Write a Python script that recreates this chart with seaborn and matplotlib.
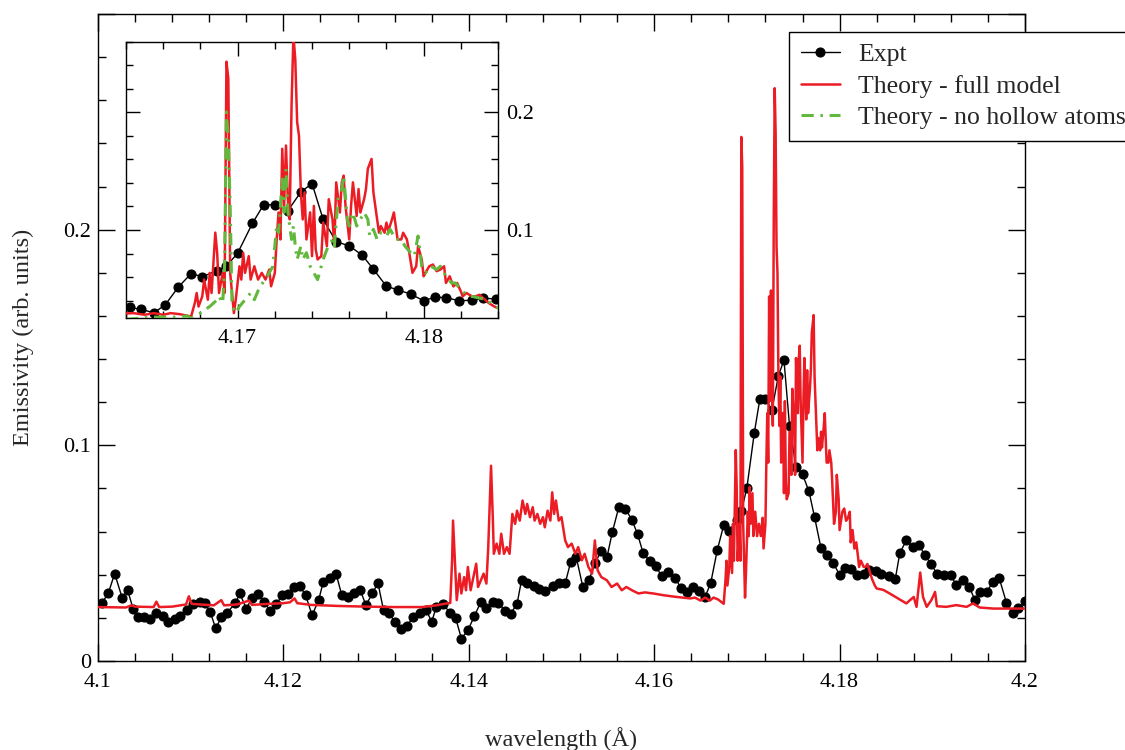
import matplotlib
matplotlib.use("Agg")
import matplotlib.pyplot as plt
from matplotlib.ticker import MultipleLocator, FuncFormatter
import seaborn as sns

# ---- values ----
# measured spectrum (black dots)
EXPT_WL = [4.1004, 4.1011, 4.1018, 4.1026, 4.1032, 4.1038, 4.1043, 4.1050, 4.1056, 4.1063,
           4.1070, 4.1076, 4.1083, 4.1089, 4.1096, 4.1103, 4.1110, 4.1115, 4.1121, 4.1127,
           4.1133, 4.1139, 4.1148, 4.1153, 4.1160, 4.1166, 4.1173, 4.1179, 4.1186, 4.1192,
           4.1199, 4.1205, 4.1211, 4.1218, 4.1224, 4.1231, 4.1238, 4.1243, 4.1250, 4.1257,
           4.1263, 4.1270, 4.1276, 4.1283, 4.1289, 4.1296, 4.1302, 4.1308, 4.1314, 4.1320,
           4.1327, 4.1333, 4.1340, 4.1347, 4.1354, 4.1360, 4.1365, 4.1372, 4.1380, 4.1386,
           4.1392, 4.1399, 4.1406, 4.1413, 4.1419, 4.1426, 4.1432, 4.1439, 4.1445, 4.1452,
           4.1457, 4.1463, 4.1470, 4.1476, 4.1482, 4.1491, 4.1497, 4.1504, 4.1510, 4.1516,
           4.1523, 4.1530, 4.1536, 4.1543, 4.1549, 4.1555, 4.1562, 4.1569, 4.1576, 4.1582,
           4.1588, 4.1595, 4.1602, 4.1608, 4.1615, 4.1622, 4.1629, 4.1635, 4.1642, 4.1648,
           4.1655, 4.1661, 4.1668, 4.1675, 4.1681, 4.1689, 4.1694, 4.1700, 4.1708, 4.1714,
           4.1720, 4.1727, 4.1734, 4.1740, 4.1746, 4.1753, 4.1760, 4.1767, 4.1773, 4.1780,
           4.1786, 4.1793, 4.1800, 4.1806, 4.1812, 4.1819, 4.1826, 4.1832, 4.1839, 4.1845,
           4.1853, 4.1860, 4.1865, 4.1872, 4.1879, 4.1886, 4.1892, 4.1899, 4.1905, 4.1913,
           4.1920, 4.1926, 4.1933, 4.1940, 4.1946, 4.1952, 4.1959, 4.1965, 4.1972, 4.1980,
           4.1987, 4.1993, 4.2000]
EXPT_EM = [0.0267, 0.0313, 0.0405, 0.0294, 0.0328, 0.0240, 0.0205, 0.0202, 0.0193, 0.0223,
           0.0208, 0.0182, 0.0193, 0.0208, 0.0236, 0.0263, 0.0274, 0.0267, 0.0228, 0.0151,
           0.0202, 0.0223, 0.0267, 0.0313, 0.0243, 0.0290, 0.0309, 0.0274, 0.0232, 0.0263,
           0.0305, 0.0309, 0.0342, 0.0346, 0.0305, 0.0212, 0.0282, 0.0366, 0.0386, 0.0402,
           0.0305, 0.0298, 0.0313, 0.0328, 0.0259, 0.0313, 0.0362, 0.0236, 0.0224, 0.0182,
           0.0147, 0.0162, 0.0202, 0.0223, 0.0236, 0.0182, 0.0251, 0.0263, 0.0223, 0.0197,
           0.0104, 0.0142, 0.0208, 0.0274, 0.0246, 0.0274, 0.0271, 0.0232, 0.0220, 0.0263,
           0.0377, 0.0362, 0.0348, 0.0336, 0.0325, 0.0348, 0.0362, 0.0360, 0.0460, 0.0480,
           0.0344, 0.0377, 0.0453, 0.0510, 0.0480, 0.0600, 0.0716, 0.0705, 0.0654, 0.0589,
           0.0502, 0.0463, 0.0439, 0.0393, 0.0413, 0.0387, 0.0339, 0.0320, 0.0344, 0.0325,
           0.0298, 0.0362, 0.0513, 0.0630, 0.0603, 0.0655, 0.0694, 0.0803, 0.1058, 0.1215,
           0.1214, 0.1164, 0.1323, 0.1395, 0.1090, 0.0900, 0.0866, 0.0786, 0.0667, 0.0522,
           0.0492, 0.0456, 0.0399, 0.0429, 0.0426, 0.0399, 0.0404, 0.0420, 0.0415, 0.0402,
           0.0393, 0.0378, 0.0501, 0.0559, 0.0528, 0.0536, 0.0490, 0.0448, 0.0405, 0.0397,
           0.0397, 0.0351, 0.0374, 0.0343, 0.0282, 0.0320, 0.0320, 0.0367, 0.0387, 0.0270,
           0.0221, 0.0244, 0.0277]

# theory - full model (red)
FULL_WL = [4.1000, 4.1030, 4.1036, 4.1040, 4.1060, 4.1063, 4.1066, 4.1080, 4.1095, 4.1098,
           4.1101, 4.1110, 4.1125, 4.1133, 4.1136, 4.1150, 4.1163, 4.1166, 4.1185, 4.1200,
           4.1207, 4.1212, 4.1215, 4.1230, 4.1260, 4.1290, 4.1320, 4.1350, 4.1365, 4.1375,
           4.1380, 4.1382, 4.1383, 4.1385, 4.1387, 4.1390, 4.1392, 4.1395, 4.1397, 4.1399,
           4.1402, 4.1405, 4.1408, 4.1410, 4.1413, 4.1416, 4.1419, 4.1421, 4.1424, 4.1426,
           4.1427, 4.1430, 4.1433, 4.1435, 4.1438, 4.1441, 4.1444, 4.1447, 4.1450, 4.1452,
           4.1455, 4.1458, 4.1461, 4.1463, 4.1466, 4.1469, 4.1471, 4.1474, 4.1477, 4.1480,
           4.1482, 4.1485, 4.1488, 4.1490, 4.1492, 4.1494, 4.1497, 4.1500, 4.1504, 4.1507,
           4.1511, 4.1515, 4.1518, 4.1522, 4.1525, 4.1529, 4.1533, 4.1536, 4.1539, 4.1543,
           4.1549, 4.1554, 4.1560, 4.1565, 4.1570, 4.1576, 4.1583, 4.1590, 4.1599, 4.1610,
           4.1624, 4.1639, 4.1644, 4.1650, 4.1655, 4.1660, 4.1664, 4.1669, 4.1675, 4.1677,
           4.1678, 4.1679, 4.1681, 4.1682, 4.1684, 4.1685, 4.1686, 4.1688, 4.1689, 4.1690,
           4.1692, 4.1693, 4.1694, 4.1695, 4.1696, 4.1698, 4.1699, 4.1701, 4.1702, 4.1703,
           4.1704, 4.1706, 4.1707, 4.1709, 4.1711, 4.1713, 4.1715, 4.1717, 4.1718, 4.1720,
           4.1721, 4.1722, 4.1723, 4.1724, 4.1725, 4.1726, 4.1727, 4.1728, 4.1729, 4.1730,
           4.1731, 4.1732, 4.1733, 4.1734, 4.1735, 4.1736, 4.1737, 4.1739, 4.1740, 4.1741,
           4.1742, 4.1743, 4.1745, 4.1746, 4.1748, 4.1749, 4.1751, 4.1752, 4.1753, 4.1755,
           4.1756, 4.1757, 4.1758, 4.1760, 4.1761, 4.1762, 4.1764, 4.1765, 4.1766, 4.1768,
           4.1769, 4.1770, 4.1772, 4.1773, 4.1775, 4.1776, 4.1777, 4.1779, 4.1780, 4.1781,
           4.1783, 4.1784, 4.1785, 4.1786, 4.1788, 4.1789, 4.1791, 4.1792, 4.1794, 4.1796,
           4.1797, 4.1799, 4.1800, 4.1801, 4.1803, 4.1805, 4.1807, 4.1809, 4.1811, 4.1812,
           4.1814, 4.1816, 4.1818, 4.1820, 4.1821, 4.1823, 4.1826, 4.1828, 4.1830, 4.1833,
           4.1835, 4.1838, 4.1840, 4.1847, 4.1854, 4.1865, 4.1872, 4.1880, 4.1883, 4.1887,
           4.1890, 4.1894, 4.1899, 4.1903, 4.1905, 4.1915, 4.1926, 4.1937, 4.1944, 4.1951,
           4.1966, 4.1987, 4.2000]
FULL_EM = [0.0250, 0.0248, 0.0258, 0.0252, 0.0250, 0.0275, 0.0250, 0.0252, 0.0262, 0.0300,
           0.0265, 0.0262, 0.0258, 0.0282, 0.0258, 0.0262, 0.0280, 0.0260, 0.0265, 0.0268,
           0.0272, 0.0290, 0.0268, 0.0260, 0.0255, 0.0252, 0.0250, 0.0250, 0.0258, 0.0266,
           0.0269, 0.0467, 0.0651, 0.0467, 0.0282, 0.0405, 0.0313, 0.0389, 0.0328, 0.0436,
           0.0328, 0.0389, 0.0451, 0.0343, 0.0374, 0.0405, 0.0359, 0.0528, 0.0905, 0.0651,
           0.0497, 0.0544, 0.0497, 0.0590, 0.0497, 0.0528, 0.0497, 0.0682, 0.0636, 0.0697,
           0.0651, 0.0744, 0.0682, 0.0728, 0.0667, 0.0713, 0.0651, 0.0682, 0.0636, 0.0667,
           0.0620, 0.0697, 0.0651, 0.0782, 0.0682, 0.0744, 0.0651, 0.0667, 0.0559, 0.0528,
           0.0544, 0.0497, 0.0528, 0.0467, 0.0497, 0.0436, 0.0405, 0.0559, 0.0420, 0.0389,
           0.0374, 0.0343, 0.0359, 0.0328, 0.0343, 0.0328, 0.0313, 0.0318, 0.0313, 0.0305,
           0.0297, 0.0290, 0.0294, 0.0280, 0.0294, 0.0280, 0.0294, 0.0285, 0.0265, 0.0380,
           0.0465, 0.0350, 0.0436, 0.0579, 0.0408, 0.0636, 0.0465, 0.0978, 0.0807, 0.0465,
           0.0636, 0.0465, 0.2430, 0.2288, 0.0636, 0.0294, 0.0408, 0.0692, 0.0579, 0.0807,
           0.0636, 0.0778, 0.0579, 0.0692, 0.0579, 0.0636, 0.0579, 0.0664, 0.0522, 0.0636,
           0.0920, 0.1149, 0.0920, 0.1690, 0.1206, 0.1718, 0.1262, 0.1091, 0.2060, 0.2656,
           0.2450, 0.1918, 0.1800, 0.1320, 0.1090, 0.1320, 0.0920, 0.1150, 0.0778, 0.1205,
           0.0835, 0.0750, 0.0778, 0.1063, 0.0863, 0.1262, 0.1091, 0.0863, 0.1405, 0.1149,
           0.1405, 0.1462, 0.1206, 0.0920, 0.1206, 0.1405, 0.1120, 0.1348, 0.1149, 0.1262,
           0.1348, 0.1520, 0.1604, 0.1320, 0.1091, 0.0977, 0.1034, 0.0977, 0.1063, 0.0990,
           0.1091, 0.1149, 0.1034, 0.0920, 0.0920, 0.0977, 0.0920, 0.0835, 0.0636, 0.0692,
           0.0863, 0.0750, 0.0607, 0.0636, 0.0692, 0.0707, 0.0650, 0.0664, 0.0692, 0.0550,
           0.0607, 0.0521, 0.0550, 0.0479, 0.0436, 0.0465, 0.0436, 0.0436, 0.0450, 0.0408,
           0.0380, 0.0350, 0.0336, 0.0330, 0.0313, 0.0285, 0.0267, 0.0297, 0.0251, 0.0410,
           0.0297, 0.0251, 0.0282, 0.0320, 0.0254, 0.0251, 0.0259, 0.0251, 0.0267, 0.0248,
           0.0243, 0.0243, 0.0243]

# theory - no hollow atoms (green, inset only)
NOHOLLOW_WL = [4.1640, 4.1648, 4.1655, 4.1666, 4.1673, 4.1675, 4.1680, 4.1685, 4.1689, 4.1690,
               4.1692, 4.1693, 4.1694, 4.1695, 4.1696, 4.1697, 4.1699, 4.1701, 4.1704, 4.1707,
               4.1709, 4.1712, 4.1715, 4.1717, 4.1719, 4.1721, 4.1722, 4.1724, 4.1725, 4.1726,
               4.1727, 4.1729, 4.1730, 4.1731, 4.1732, 4.1734, 4.1735, 4.1737, 4.1739, 4.1743,
               4.1746, 4.1748, 4.1751, 4.1752, 4.1754, 4.1756, 4.1757, 4.1759, 4.1760, 4.1762,
               4.1764, 4.1766, 4.1768, 4.1770, 4.1771, 4.1773, 4.1775, 4.1777, 4.1780, 4.1782,
               4.1785, 4.1788, 4.1790, 4.1793, 4.1795, 4.1797, 4.1799, 4.1801, 4.1804, 4.1807,
               4.1809, 4.1812, 4.1815, 4.1817, 4.1820, 4.1823, 4.1826, 4.1830, 4.1834, 4.1837,
               4.1840]
NOHOLLOW_EM = [0.0240, 0.0253, 0.0260, 0.0260, 0.0270, 0.0250, 0.0294, 0.0350, 0.0408, 0.0436,
               0.0380, 0.0692, 0.2003, 0.1775, 0.1205, 0.0350, 0.0294, 0.0350, 0.0408, 0.0465,
               0.0408, 0.0522, 0.0579, 0.0636, 0.0692, 0.1034, 0.0977, 0.1433, 0.1149, 0.1520,
               0.1149, 0.0920, 0.1034, 0.0863, 0.0750, 0.0863, 0.0750, 0.0807, 0.0692, 0.0579,
               0.0750, 0.0835, 0.0920, 0.0863, 0.1262, 0.1348, 0.1462, 0.1091, 0.1034, 0.1149,
               0.1034, 0.1091, 0.1149, 0.1091, 0.0949, 0.1006, 0.0920, 0.0977, 0.0949, 0.1006,
               0.0920, 0.0920, 0.0863, 0.0807, 0.0778, 0.0949, 0.0692, 0.0636, 0.0692, 0.0664,
               0.0692, 0.0607, 0.0550, 0.0550, 0.0493, 0.0450, 0.0436, 0.0422, 0.0408, 0.0365,
               0.0336]

LABELS = ["Expt", "Theory - full model", "Theory - no hollow atoms"]
RED = "#ec1c24"
GREEN = "#62b83c"

# ---- style ----
sns.set_style("ticks")
plt.rcParams["font.family"] = ["Liberation Serif", "DejaVu Serif"]
plt.rcParams["font.size"] = 16
plt.rcParams["axes.edgecolor"] = "black"
plt.rcParams["xtick.color"] = "black"
plt.rcParams["ytick.color"] = "black"
plt.rcParams["axes.linewidth"] = 1.0

fig = plt.figure(figsize=(11.25, 7.5), dpi=100)
ax = fig.add_axes([0.0871, 0.1187, 0.8240, 0.8626])


def draw_curves(a, with_green):
    sns.lineplot(x=EXPT_WL, y=EXPT_EM, ax=a, estimator=None, sort=False,
                 color="black", lw=1.0, marker="o", markersize=6.5,
                 markeredgecolor="black", markeredgewidth=0.8, zorder=2)
    sns.lineplot(x=FULL_WL, y=FULL_EM, ax=a, estimator=None, sort=False,
                 color=RED, lw=1.8, zorder=3)
    if with_green:
        sns.lineplot(x=NOHOLLOW_WL, y=NOHOLLOW_EM, ax=a, estimator=None, sort=False,
                     color=GREEN, lw=2.2, linestyle=(0, (4, 2.2, 0.8, 2.2)), zorder=4)
    return list(a.lines)


def style_ticks(a, major_len, minor_len):
    a.tick_params(which="both", direction="in", top=True, right=True, width=1.0)
    a.tick_params(which="major", length=major_len)
    a.tick_params(which="minor", length=minor_len)


# ---- main panel ----
main_lines = draw_curves(ax, with_green=False)
ax.set_xlim(4.1, 4.2)
ax.set_ylim(0, 0.3)
ax.xaxis.set_major_locator(MultipleLocator(0.02))
ax.xaxis.set_minor_locator(MultipleLocator(0.004))
ax.yaxis.set_major_locator(MultipleLocator(0.1))
ax.yaxis.set_minor_locator(MultipleLocator(0.02))
ax.xaxis.set_major_formatter(FuncFormatter(lambda v, p: f"{v:g}"))
# the top value (0.3) carries no label in the original
ax.yaxis.set_major_formatter(FuncFormatter(
    lambda v, p: "0" if abs(v) < 1e-9 else ("" if v > 0.25 else f"{v:g}")))
style_ticks(ax, 12, 5.5)
ax.tick_params(axis="x", pad=9)
ax.tick_params(axis="y", pad=5)
ax.set_xlabel("wavelength (Å)", fontsize=17.5, labelpad=25)
ax.set_ylabel("Emissivity (arb. units)", fontsize=17.5, labelpad=21)

# ---- inset ----
ins = fig.add_axes([0.112, 0.5756, 0.3307, 0.3688])
ins_lines = draw_curves(ins, with_green=True)
ins.set_xlim(4.164, 4.184)
ins.set_ylim(0.025, 0.26)
ins.xaxis.set_major_locator(MultipleLocator(0.01))
ins.xaxis.set_minor_locator(MultipleLocator(0.002))
ins.yaxis.set_major_locator(MultipleLocator(0.1))
ins.yaxis.set_minor_locator(MultipleLocator(0.02))
ins.xaxis.set_major_formatter(FuncFormatter(lambda v, p: f"{v:g}"))
ins.yaxis.set_major_formatter(FuncFormatter(lambda v, p: f"{v:g}"))
style_ticks(ins, 10, 5)
ins.tick_params(axis="y", labelleft=False, labelright=True, pad=6)
ins.tick_params(axis="x", pad=8)
ins.set_xlabel("")
ins.set_ylabel("")

# ---- legend (runs off the right edge, as in the original) ----
leg = ax.legend(handles=ins_lines[:3], labels=LABELS, loc="upper left",
                bbox_to_anchor=(0.7013, 0.958), bbox_transform=fig.transFigure,
                frameon=True, fancybox=False, framealpha=1, edgecolor="black",
                fontsize=18.5, handlelength=1.55, handletextpad=0.7,
                labelspacing=0.33, borderpad=0.45, borderaxespad=0)
leg.get_frame().set_linewidth(1.0)

fig.savefig("out.png", dpi=100)
